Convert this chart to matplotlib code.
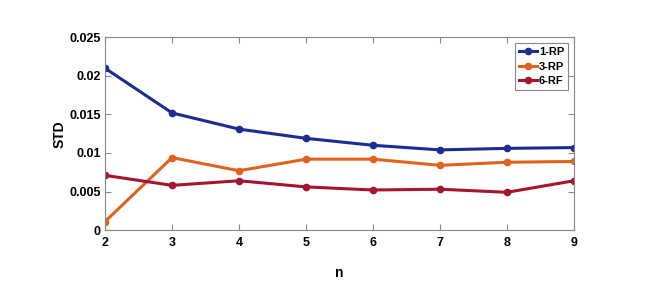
import matplotlib
matplotlib.use("Agg")
import matplotlib.pyplot as plt

plt.rcParams['font.family'] = ['Liberation Sans', 'DejaVu Sans']
plt.rcParams['font.weight'] = 'bold'

n = [2, 3, 4, 5, 6, 7, 8, 9]
rp1 = [0.0210, 0.0152, 0.0131, 0.0119, 0.0110, 0.0104, 0.0106, 0.0107]
rp3 = [0.0011, 0.0094, 0.0077, 0.0092, 0.0092, 0.0084, 0.0088, 0.0089]
rf6 = [0.0071, 0.0058, 0.0064, 0.0056, 0.0052, 0.0053, 0.0049, 0.0064]

fig = plt.figure(figsize=(6.67, 2.83), dpi=100)
ax = fig.add_axes([0.1574, 0.187, 0.7032, 0.681])

ax.plot(n, rp1, marker='o', ms=4.5, lw=2.2, color='#1c2d91', label='1-RP')
ax.plot(n, rp3, marker='o', ms=4.5, lw=2.2, color='#e0621f', label='3-RP')
ax.plot(n, rf6, marker='o', ms=4.5, lw=2.2, color='#a5152f', label='6-RF')

ax.set_xlim(2, 9)
ax.set_ylim(0, 0.025)
ax.set_xticks(n)
ax.set_yticks([0, 0.005, 0.01, 0.015, 0.02, 0.025])
ax.set_yticklabels(['0', '0.005', '0.01', '0.015', '0.02', '0.025'])
ax.tick_params(direction='in', top=True, right=True, length=4, width=0.8,
               color='#888888', labelsize=9)
ax.tick_params(axis='x', pad=5)
ax.tick_params(axis='y', pad=3)
for s in ax.spines.values():
    s.set_color('#888888')
    s.set_linewidth(0.8)
for lab in ax.get_xticklabels() + ax.get_yticklabels():
    lab.set_fontweight('bold')

ax.set_xlabel('n', fontsize=10, fontweight='bold', labelpad=12)
ax.set_ylabel('STD', fontsize=10, fontweight='bold', labelpad=2)

leg = ax.legend(loc='upper right', fontsize=8, fancybox=False, framealpha=1,
                edgecolor='#888888', handlelength=1.6, handletextpad=0.2,
                borderpad=0.35, labelspacing=0.4, borderaxespad=0.55)
leg.get_frame().set_linewidth(0.8)

fig.savefig('out.png', dpi=100)
